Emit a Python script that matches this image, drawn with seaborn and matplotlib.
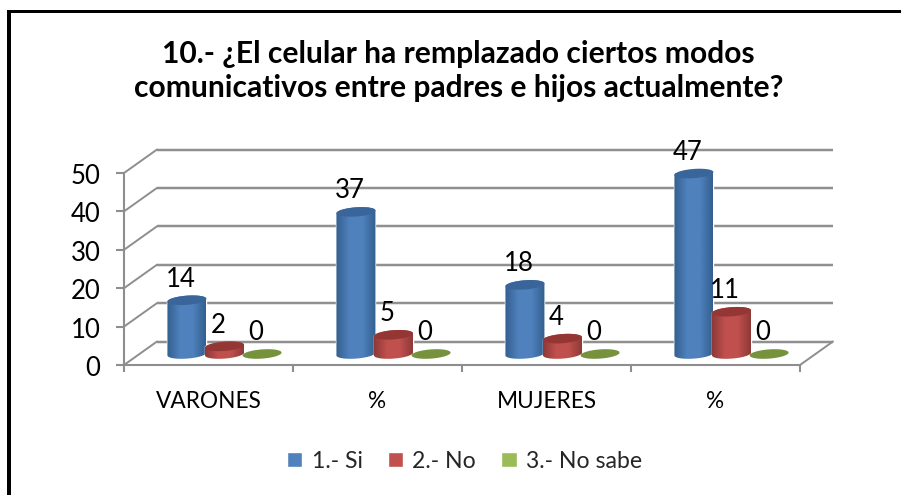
import numpy as np
import pandas as pd
import matplotlib
matplotlib.use("Agg")
import matplotlib.pyplot as plt
from matplotlib.colors import LinearSegmentedColormap
from matplotlib.patches import Polygon, Rectangle
from matplotlib.transforms import ScaledTranslation
import seaborn as sns

title = "10.- ¿El celular ha remplazado ciertos modos\ncomunicativos entre padres e hijos actualmente?"
group_ids = ["varones", "pct_v", "mujeres", "pct_m"]
group_labels = ["VARONES", "%", "MUJERES", "%"]
series_names = ["1.- Si", "2.- No", "3.- No sabe"]
si_values = [14, 37, 18, 47]
no_values = [2, 5, 4, 11]
nosabe_values = [0, 0, 0, 0]
base_colors = ["#4F81BD", "#C0504D", "#9BBB59"]
edge_colors = ["#34608F", "#8E3A38", "#76923C"]
top_colors = ["#3A659A", "#943634", "#76923C"]

df = pd.DataFrame({
    "grupo": group_ids * 3,
    "serie": np.repeat(series_names, 4),
    "valor": si_values + no_values + nosabe_values,
})

sns.set_theme(style="white")
plt.rcParams["font.family"] = ["Lato", "DejaVu Sans"]

W, H = 901, 495
fig = plt.figure(figsize=(W / 100, H / 100), dpi=100)
fig.patch.set_facecolor("white")
L, R, B, T = 124, 800, 365, 173
ax = fig.add_axes([L / W, 1 - B / H, (R - L) / W, (B - T) / H])

sns.barplot(data=df, x="grupo", y="valor", hue="serie", order=group_ids,
            hue_order=series_names, palette=base_colors, width=0.667, gap=0,
            saturation=1, legend=True, ax=ax, zorder=3)
ax.set_xlim(-0.5, 3.5)
ax.set_ylim(0, 50)
ax.set_xlabel("")
ax.set_ylabel("")
ax.patch.set_alpha(0)

px = (R - L) / 4           # pixels per category
py = (B - T) / 50          # pixels per value unit
grid_c = "#8E8E8E"

# back wall, side wall, floor
back_dx, back_dy = 33 / px, 23.5 / py
yticks = [0, 10, 20, 30, 40, 50]
for v in yticks:
    ax.plot([-0.5 + back_dx, 3.5 + back_dx], [v + back_dy] * 2, color="#DDDDDD", lw=2.6,
            clip_on=False, zorder=1, solid_capstyle="butt")
    ax.plot([-0.5 + back_dx, 3.5 + back_dx], [v + back_dy] * 2, color=grid_c, lw=1.4,
            clip_on=False, zorder=1.1, solid_capstyle="butt")
    ax.plot([-0.5, -0.5 + back_dx], [v, v + back_dy], color=grid_c, lw=1.4,
            clip_on=False, zorder=1.1)
ax.plot([3.5, 3.5 + back_dx], [0, back_dy], color=grid_c, lw=1.4, clip_on=False, zorder=1.1)

# cylinders built on the bars drawn by seaborn
bar_dx, bar_dy = 16 / px, 11 / py
bar_w = 39 / px
ell_h = 4.6 / py
tilt = 1.4 / py
t = np.linspace(0, 2 * np.pi, 120)


def ellipse_xy(cx, cy, a):
    return np.column_stack([cx + a * np.cos(t), cy + ell_h * np.sin(t) + tilt * np.cos(t)])


cmaps = [LinearSegmentedColormap.from_list(
    "c", [e, b, b, e]) for e, b in zip(edge_colors, base_colors)]
grad = np.linspace(0, 1, 64).reshape(1, -1)
ztop = 3
for si, cont in enumerate(ax.containers):
    for val, patch in zip(df.loc[df.serie == series_names[si], "valor"], cont.patches):
        cx = patch.get_x() + patch.get_width() / 2 + bar_dx
        a = bar_w / 2
        base_y = bar_dy
        top_y = base_y + patch.get_height()
        patch.set_x(cx - a)
        patch.set_width(bar_w)
        patch.set_y(base_y)
        patch.set_clip_on(False)
        patch.set_zorder(ztop + si)
        if val > 0:
            tt = np.linspace(np.pi, 2 * np.pi, 50)
            lower = np.column_stack([cx + a * np.cos(tt),
                                     base_y + ell_h * np.sin(tt) + tilt * np.cos(tt)])
            tt2 = np.linspace(0, np.pi, 50)
            upper = np.column_stack([cx + a * np.cos(tt2),
                                     top_y + ell_h * np.sin(tt2) + tilt * np.cos(tt2)])
            body = Polygon(np.vstack([lower, upper]), closed=True, transform=ax.transData,
                           facecolor="none", edgecolor="none")
            ax.add_patch(body)
            im = ax.imshow(grad, cmap=cmaps[si], aspect="auto", zorder=ztop + si + 0.1,
                           extent=(cx - a, cx + a, base_y - 2 * ell_h, top_y + 2 * ell_h))
            im.set_clip_path(body)
            body.set_clip_on(False)
        ax.add_patch(Polygon(ellipse_xy(cx, top_y, a), closed=True, facecolor=top_colors[si],
                             edgecolor="none", zorder=ztop + si + 0.2, clip_on=False))
        ax.text(cx - 6.5 / px, top_y + 21 / py, str(val), ha="center", va="center",
                fontsize=18.5, color="black", zorder=10, clip_on=False)

ax.set_xlim(-0.5, 3.5)
ax.set_ylim(0, 50)

# axes
sns.despine(ax=ax, top=True, right=True)
for s in ("left", "bottom"):
    ax.spines[s].set_color(grid_c)
    ax.spines[s].set_linewidth(1.5)
ax.set_yticks(yticks)
ax.tick_params(axis="y", which="major", length=6, width=1.5, color=grid_c, labelsize=18.5,
               labelcolor="black", pad=11, left=True)
nudge = ScaledTranslation(0, -0.01, fig.dpi_scale_trans)
for lab in ax.get_yticklabels():
    lab.set_transform(lab.get_transform() + nudge)
ax.set_xticks([0, 1, 2, 3], labels=group_labels)
ax.set_xticks([-0.5, 0.5, 1.5, 2.5, 3.5], minor=True)
ax.tick_params(axis="x", which="major", length=0, labelsize=16.3, labelcolor="black", pad=18.5)
ax.tick_params(axis="x", which="minor", length=5, width=1.5, color=grid_c, bottom=True)

# legend
sns.move_legend(ax, "center", bbox_to_anchor=(464.5 / W, 1 - 461 / H),
                bbox_transform=fig.transFigure, ncol=3, frameon=False, title=None,
                fontsize=16.6, handlelength=0.66, handleheight=0.66, handletextpad=0.4,
                columnspacing=1.1)

fig.text(458.5 / W, 1 - 71 / H, title, ha="center", va="center", fontsize=21.6, fontweight="bold",
         color="black", linespacing=1.25)

# outer frame of the picture
for x0, y0, w, h in [(7, 10, 4, 485), (7, 10, 894, 3)]:
    fig.add_artist(Rectangle((x0 / W, 1 - (y0 + h) / H), w / W, h / H,
                             transform=fig.transFigure, facecolor="black", edgecolor="none"))

fig.savefig("out.png", dpi=100)
